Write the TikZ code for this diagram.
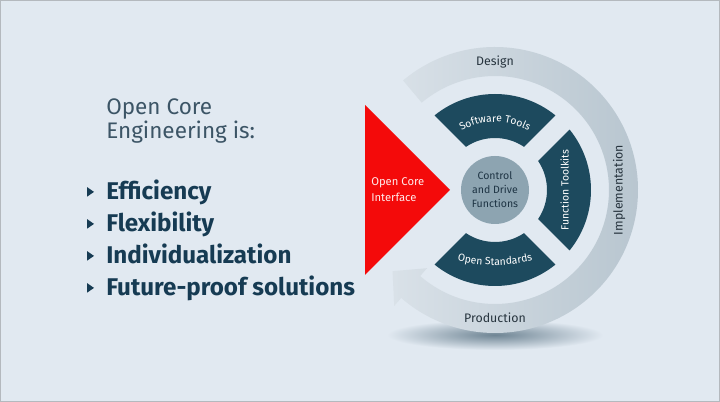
\documentclass[tikz,border=0pt]{standalone}
\usepackage{fontspec}
\setmainfont{Fira Sans}
\usetikzlibrary{decorations.text}

\definecolor{slidebg}{HTML}{E1E9F1}
\definecolor{framegray}{HTML}{B4B9BE}
\definecolor{ringlight}{HTML}{D9E1E8}
\definecolor{ringdark}{HTML}{B6C4CE}
\definecolor{shadowgray}{HTML}{6F8594}
\definecolor{segblue}{HTML}{1D4A5E}
\definecolor{hubgray}{HTML}{8DA4B1}
\definecolor{hubtext}{HTML}{1E3444}
\definecolor{boschred}{HTML}{F40A0A}
\definecolor{titlegray}{HTML}{3C5566}
\definecolor{itemblue}{HTML}{163B53}
\definecolor{labelgray}{HTML}{27343E}

\newcommand\segfont{\fontsize{7.4}{9}\selectfont\color{white}}

\begin{document}
\begin{tikzpicture}[
  headline/.style={anchor=base west, inner sep=0pt, text=titlegray, font=\fontsize{16}{19}\selectfont},
  item/.style={anchor=base west, inner sep=0pt, text=itemblue, font=\fontsize{17.2}{20}\selectfont\bfseries},
  ringlabel/.style={text=labelgray, font=\fontsize{8.8}{10}\selectfont},
  segment/.style={fill=segblue},
  seglabel/.style={decorate, decoration={text along path, text align=center, text={|\segfont|#1}}}]
  % background
  \fill[slidebg] (0,0) rectangle (18,10.05);
  \draw[framegray, line width=0.5pt] (0.01,0.01) rectangle (17.99,10.04);

  % left text
  \node[headline] (head1) at (2.65,7.175) {Open Core};
  \node[headline] (head2) at (2.65,6.575) {Engineering is:};
  \foreach \n/\txt/\y in {1/Efficiency/5.05, 2/Flexibility/4.25, 3/Individualization/3.45, 4/Future-proof solutions/2.65} {
    \node[item] (item\n) at (2.65,\y) {\txt};
    \fill[itemblue] ([xshift=-0.47cm,yshift=0.085cm]item\n.base west) -- ++(0,0.235) -- ++(0.17,-0.1175) -- cycle;
  }

  \begin{scope}[shift={(12.375,5.3)}]
    % shadow and cycle arrow
    \shade[inner color=shadowgray, outer color=slidebg] (0,-3.62) ellipse [x radius=2.7, y radius=0.38];
    \shade[left color=ringlight, right color=ringdark]
      (130:3.575) arc[start angle=130, end angle=-131, radius=3.575]
      -- (-131:3.84) -- (-2.561,-2.030) -- (-131:2.59)
      -- (-131:2.85) arc[start angle=-131, end angle=130, radius=2.85] -- cycle;
    \node[ringlabel] (design) at (0,3.2) {Design};
    \node[ringlabel, rotate=90] (implementation) at (3.1,0) {Implementation};
    \node[ringlabel] (production) at (0,-3.2) {Production};

    % dark segments
    \foreach \a in {90,0,-90}
      \fill[segment] ({\a-39}:2.4) arc[start angle=\a-39, end angle=\a+39, radius=2.4]
        -- ({\a+33.9}:1.3) arc[start angle=\a+33.9, end angle=\a-33.9, radius=1.3] -- cycle;
    \path[seglabel=Software Tools] (128:1.7) arc[start angle=128, end angle=52, radius=1.7];
    \node[rotate=90, inner sep=0pt, font=\segfont] (toolkits) at (1.74,0) {Function Toolkits};
    \path[seglabel=Open Standards] (0,2.12) ++(251:4) arc[start angle=251, end angle=289, radius=4];

    % hub
    \node[circle, fill=hubgray, minimum size=1.7cm, inner sep=0pt, align=center,
      text=hubtext, font=\fontsize{7.5}{10}\selectfont] (hub) at (0,0) {Control\\and Drive\\Functions};

    % interface
    \fill[boschred] (-3.25,2.125) -- (-3.25,-2.125) -- (-1.125,0) -- cycle;
    \node[anchor=west, align=left, inner sep=0pt, text=red!8!white,
      font=\fontsize{8}{11.4}\selectfont] (interface) at (-3.1,0) {Open Core\\Interface};
  \end{scope}
\end{tikzpicture}
\end{document}
